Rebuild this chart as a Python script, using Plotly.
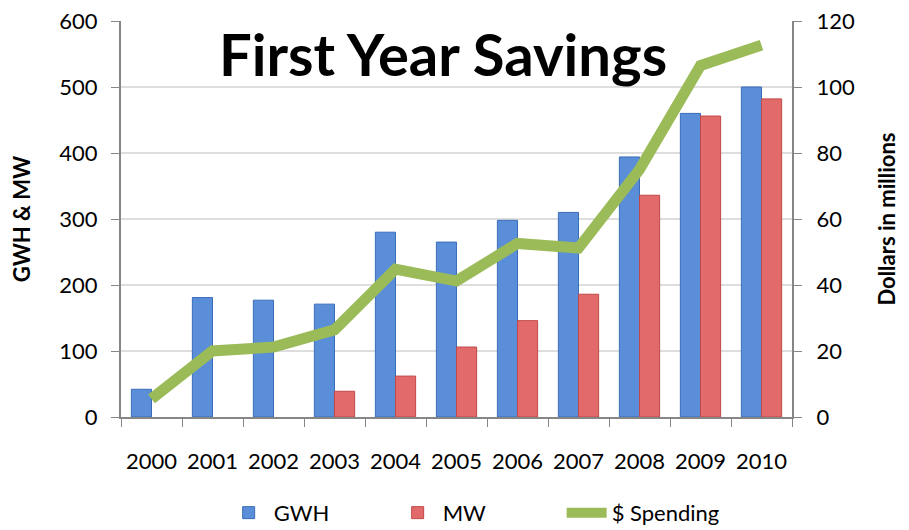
import plotly.graph_objects as go

years = ["2000", "2001", "2002", "2003", "2004", "2005", "2006", "2007", "2008", "2009", "2010"]
gwh = [42, 181, 177, 171, 280, 265, 298, 310, 394, 460, 500]
mw = [None, None, None, 39, 62, 106, 146, 186, 336, 456, 482]
spending = [5.5, 20, 21.2, 26.4, 44.8, 41.2, 52.6, 51.2, 75, 106.5, 112.7]

FONT = "Lato"

fig = go.Figure()
fig.add_trace(go.Bar(x=years, y=gwh, name="GWH",
                     marker=dict(color="#5A8ED8", line=dict(color="#3A6DB8", width=1))))
fig.add_trace(go.Bar(x=years, y=mw, name="MW",
                     marker=dict(color="#E26A6A", line=dict(color="#C04848", width=1))))
fig.add_trace(go.Scatter(x=years, y=spending, name="$ Spending", yaxis="y2",
                         mode="lines", line=dict(color="#9BBB59", width=11)))

fig.add_annotation(text="<b>First Year Savings</b>", x=0.48, xref="paper",
                   y=0.825, yref="paper", yanchor="bottom", showarrow=False,
                   font=dict(family=FONT, size=58, color="black"))

fig.update_layout(
    width=901, height=522,
    margin=dict(l=113, r=117, t=13, b=113, autoexpand=False),
    paper_bgcolor="white", plot_bgcolor="white",
    font=dict(family=FONT, size=22, color="black"),
    barmode="group", bargap=0.34, bargroupgap=0,
    showlegend=True,
    legend=dict(orientation="h", x=0.153, xanchor="left", y=-0.242, yanchor="middle",
                font=dict(size=22), itemwidth=40, entrywidth=114, entrywidthmode="pixels",
                traceorder="normal"),
    xaxis=dict(type="category", showline=True, linecolor="#868686", linewidth=2,
               ticks="outside", tickson="boundaries", ticklen=8, tickcolor="#868686",
               tickfont=dict(size=22), tickangle=0, showgrid=False, automargin=False,
               ticklabelstandoff=24, ticklabeloverflow="allow"),
    yaxis=dict(range=[0, 600], dtick=100, showline=True, linecolor="#868686", linewidth=2,
               ticks="outside", ticklen=8, tickcolor="#868686", automargin=False,
               ticklabelstandoff=9, ticklabeloverflow="allow",
               gridcolor="#DEDEDE", gridwidth=1.5, zeroline=False,
               title=dict(text="<b>GWH & MW</b>", font=dict(size=22), standoff=27)),
    yaxis2=dict(range=[0, 120], dtick=20, overlaying="y", side="right",
                showline=True, linecolor="#868686", linewidth=2, automargin=False,
                ticks="outside", ticklen=8, tickcolor="#868686", ticklabelstandoff=10,
                ticklabeloverflow="allow",
                showgrid=False, zeroline=False,
                title=dict(text="<b>Dollars in millions</b>", font=dict(size=22), standoff=26)),
)

fig.write_html("out.html")
